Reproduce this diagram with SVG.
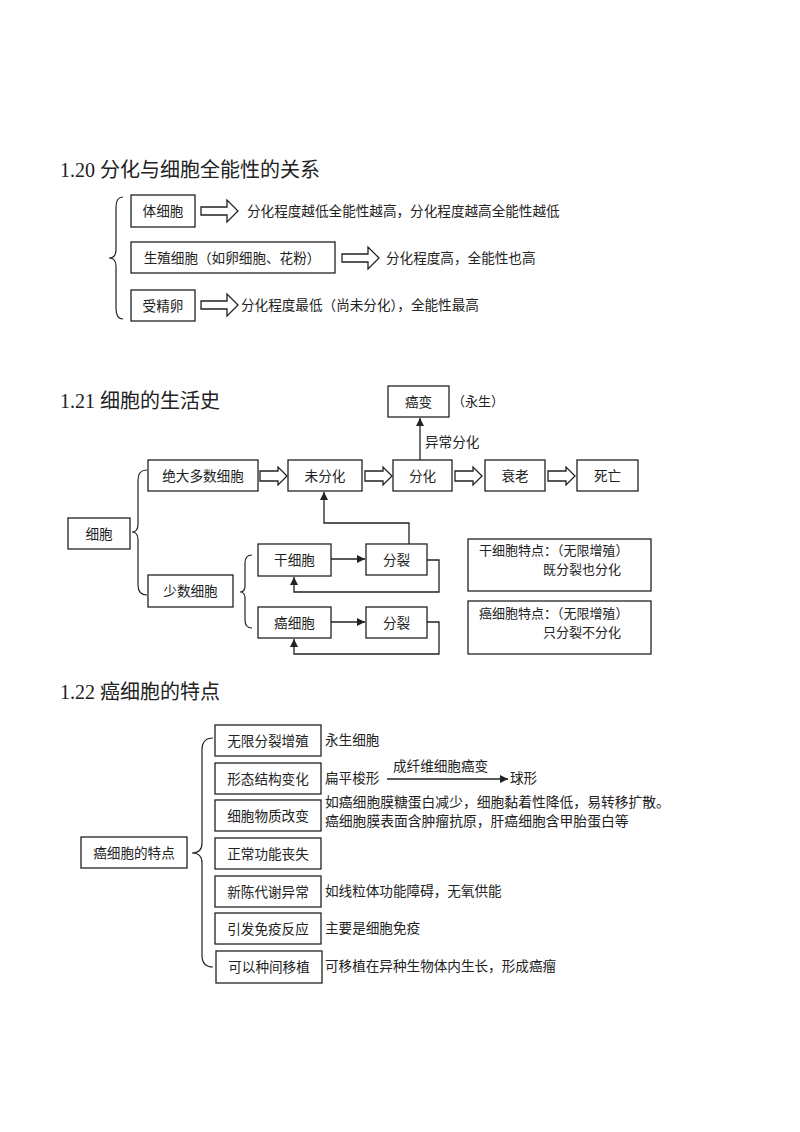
<svg xmlns="http://www.w3.org/2000/svg" width="800" height="1132" viewBox="0 0 800 1132">
<style>
.bx{fill:#fff;stroke:#222;stroke-width:1.3}
.ln{fill:none;stroke:#222;stroke-width:1.3}
.br{fill:none;stroke:#222;stroke-width:1.2}
.ha{fill:#fff;stroke:#222;stroke-width:1.3}
.t{font-family:"Noto Sans CJK SC","Noto Sans",sans-serif;font-size:13.6px;fill:#222}
.s{font-size:13px}
.c{text-anchor:middle}
.h{font-family:"Liberation Serif","Noto Sans CJK SC",serif;font-size:20px;fill:#222}
</style>
<defs>
<path id="ba" d="M0,-4 H26 V-11 L37,0 L26,11 V4 H0 Z"/>
<path id="bs" d="M0,-5 H18 V-9 L27,0 L18,9 V5 H0 Z"/>
<marker id="ah" viewBox="0 0 10 10" refX="10" refY="5" markerWidth="8" markerHeight="8" markerUnits="userSpaceOnUse" orient="auto"><path d="M0,0 L10,5 L0,10 Z" fill="#222"/></marker>
</defs>
<rect width="800" height="1132" fill="#fff"/>

<!-- 1.20 -->
<text class="h" x="60" y="177">1.20 分化与细胞全能性的关系</text>
<g id="s20-brace"><path class="br" d="M123,197 Q116,197 116,207 L116,250 Q116,258 109,258 Q116,258 116,266 L116,308 Q116,319 123,319"/></g>
<g id="n-ti"><rect class="bx" x="131" y="195" width="64" height="32"/><text class="t c" x="163" y="216">体细胞</text></g>
<g id="n-sz"><rect class="bx" x="131" y="242" width="204" height="31"/><text class="t c" x="232" y="262.5">生殖细胞（如卵细胞、花粉）</text></g>
<g id="n-sj"><rect class="bx" x="131" y="290" width="64" height="31"/><text class="t c" x="163" y="310.5">受精卵</text></g>
<g id="s20-arrows">
<use href="#ba" class="ha" transform="translate(201,211)"/>
<use href="#ba" class="ha" transform="translate(342,258)"/>
<use href="#ba" class="ha" transform="translate(201,305)"/>
</g>
<g id="s20-text">
<text class="t" x="247" y="216">分化程度越低全能性越高，分化程度越高全能性越低</text>
<text class="t" x="386" y="263">分化程度高，全能性也高</text>
<text class="t" x="241" y="310">分化程度最低（尚未分化），全能性最高</text>
</g>

<!-- 1.21 -->
<text class="h" x="60" y="408">1.21 细胞的生活史</text>
<g id="n-ab"><rect class="bx" x="388" y="386" width="61" height="31"/><text class="t c" x="418.5" y="406.5">癌变</text></g>
<text class="t s" x="452" y="406">（永生）</text>
<g id="n-jd"><rect class="bx" x="148" y="460" width="110" height="31"/><text class="t c" x="203" y="480.5">绝大多数细胞</text></g>
<g id="n-wf"><rect class="bx" x="288" y="460" width="74" height="31"/><text class="t c" x="325" y="480.5">未分化</text></g>
<g id="n-fh"><rect class="bx" x="393" y="460" width="59" height="31"/><text class="t c" x="422.5" y="480.5">分化</text></g>
<g id="n-sl"><rect class="bx" x="485" y="460" width="60" height="31"/><text class="t c" x="515" y="480.5">衰老</text></g>
<g id="n-sw"><rect class="bx" x="577" y="460" width="61" height="31"/><text class="t c" x="607.5" y="480.5">死亡</text></g>
<g id="n-xb"><rect class="bx" x="68" y="518" width="62" height="31"/><text class="t c" x="99" y="538.5">细胞</text></g>
<g id="n-ss"><rect class="bx" x="148" y="575" width="85" height="32"/><text class="t c" x="190.5" y="596">少数细胞</text></g>
<g id="n-gx"><rect class="bx" x="258" y="544" width="73" height="32"/><text class="t c" x="294.5" y="565">干细胞</text></g>
<g id="n-fl1"><rect class="bx" x="366" y="544" width="61" height="31"/><text class="t c" x="396.5" y="564.5">分裂</text></g>
<g id="n-ax"><rect class="bx" x="258" y="607" width="73" height="31"/><text class="t c" x="294.5" y="627.5">癌细胞</text></g>
<g id="n-fl2"><rect class="bx" x="366" y="607" width="61" height="31"/><text class="t c" x="396.5" y="627.5">分裂</text></g>
<g id="n-gtd"><rect class="bx" x="468" y="539" width="183" height="52"/><text class="t s" x="479" y="555">干细胞特点：（无限增殖）</text><text class="t s" x="543" y="574">既分裂也分化</text></g>
<g id="n-atd"><rect class="bx" x="468" y="601" width="183" height="53"/><text class="t s" x="479" y="618">癌细胞特点：（无限增殖）</text><text class="t s" x="543" y="637">只分裂不分化</text></g>
<g id="s21-braces">
<path class="br" d="M147,470 Q138,470 138,480 L138,524 Q138,532 132,532 Q138,532 138,540 L138,585 Q138,595 147,595"/>
<path class="br" d="M252,555 Q245,555 245,563 L245,586 Q245,592 240,592 Q245,592 245,598 L245,620 Q245,628 252,628"/>
</g>
<g id="s21-connectors">
<use href="#bs" class="ha" transform="translate(260,476)"/>
<use href="#bs" class="ha" transform="translate(365,476)"/>
<use href="#bs" class="ha" transform="translate(455,476)"/>
<use href="#bs" class="ha" transform="translate(548,476)"/>
<path class="ln" d="M420,460 V418" marker-end="url(#ah)"/>
<path class="ln" d="M409,544 V523 H324 V492" marker-end="url(#ah)"/>
<path class="ln" d="M331,559 H365" marker-end="url(#ah)"/>
<path class="ln" d="M427,560 H439 V592 H294 V577" marker-end="url(#ah)"/>
<path class="ln" d="M331,622 H365" marker-end="url(#ah)"/>
<path class="ln" d="M427,622 H439 V654 H294 V639" marker-end="url(#ah)"/>
<text class="t" x="425" y="447">异常分化</text>
</g>

<!-- 1.22 -->
<text class="h" x="60" y="699">1.22 癌细胞的特点</text>
<g id="n-atdm"><rect class="bx" x="81" y="837" width="106" height="31"/><text class="t c" x="134" y="857.5">癌细胞的特点</text></g>
<g id="s22-brace"><path class="br" d="M213,738 Q202,738 202,750 L202,843 Q202,853 192,853 Q202,853 202,863 L202,955 Q202,967 213,967"/></g>
<g id="n-k1"><rect class="bx" x="215" y="725" width="106" height="31"/><text class="t c" x="268" y="745.5">无限分裂增殖</text></g>
<g id="n-k2"><rect class="bx" x="215" y="763" width="106" height="31"/><text class="t c" x="268" y="783.5">形态结构变化</text></g>
<g id="n-k3"><rect class="bx" x="215" y="800" width="106" height="31"/><text class="t c" x="268" y="820.5">细胞物质改变</text></g>
<g id="n-k4"><rect class="bx" x="215" y="838" width="106" height="31"/><text class="t c" x="268" y="858.5">正常功能丧失</text></g>
<g id="n-k5"><rect class="bx" x="215" y="876" width="106" height="31"/><text class="t c" x="268" y="896.5">新陈代谢异常</text></g>
<g id="n-k6"><rect class="bx" x="215" y="913" width="106" height="31"/><text class="t c" x="268" y="933.5">引发免疫反应</text></g>
<g id="n-k7"><rect class="bx" x="216" y="951" width="106" height="32"/><text class="t c" x="269" y="972">可以种间移植</text></g>
<g id="s22-text">
<text class="t" x="325" y="745">永生细胞</text>
<text class="t" x="325" y="783">扁平梭形</text>
<path class="ln" d="M387,779 H508" marker-end="url(#ah)"/>
<text class="t" x="393" y="771">成纤维细胞癌变</text>
<text class="t" x="510" y="783">球形</text>
<text class="t" x="325" y="807" style="font-size:13.8px">如癌细胞膜糖蛋白减少，细胞黏着性降低，易转移扩散。</text>
<text class="t" x="325" y="826" style="font-size:13.8px">癌细胞膜表面含肿瘤抗原，肝癌细胞含甲胎蛋白等</text>
<text class="t" x="325" y="896">如线粒体功能障碍，无氧供能</text>
<text class="t" x="325" y="933">主要是细胞免疫</text>
<text class="t" x="325" y="971">可移植在异种生物体内生长，形成癌瘤</text>
</g>
</svg>
